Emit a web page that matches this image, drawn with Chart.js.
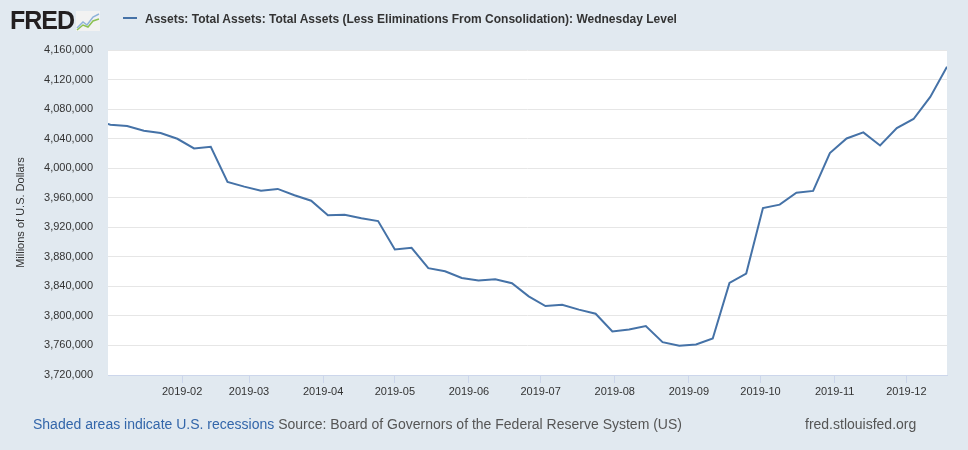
<!DOCTYPE html>
<html>
<head>
<meta charset="utf-8">
<script src="https://cdn.jsdelivr.net/npm/chart.js@4"></script>
<style>
  body { margin: 0; background: #e1e9f0; font-family: "Liberation Sans", Arial, sans-serif; }
  #wrap { position: relative; width: 968px; height: 450px; overflow: hidden; }
  #chart { position: absolute; left: 0; top: 0; }
  .logo { position: absolute; left: 10px; top: 6px; font-size: 25px; font-weight: bold; color: #231f20; letter-spacing: -1px; }
  .logo svg { vertical-align: -2px; margin-left: 2px; }
  .legend { position: absolute; left: 123px; top: 12px; font-size: 12px; font-weight: bold; color: #333; }
  .legend span { display: inline-block; width: 14px; height: 2px; background: #4572a7; vertical-align: 4px; margin-right: 8px; }
  .footer { position: absolute; top: 416px; font-size: 14px; color: #555; }
</style>
</head>
<body>
<div id="wrap">
  <canvas id="chart" width="968" height="450"></canvas>
  <div class="logo">FRED<svg width="24" height="20" viewBox="0 0 24 20"><rect width="24" height="20" fill="#f2f2f2"/><polyline points="1,17 7,11 11,14 17,6 23,3" fill="none" stroke="#8fb3d9" stroke-width="1.5"/><polyline points="1,19 7,14 12,16 17,10 23,8" fill="none" stroke="#8cc152" stroke-width="1.5"/></svg></div>
  <div class="legend"><span></span>Assets: Total Assets: Total Assets (Less Eliminations From Consolidation): Wednesday Level</div>
  <div class="footer" style="left:33px"><span style="color:#3366aa">Shaded areas indicate U.S. recessions</span> Source: Board of Governors of the Federal Reserve System (US)</div>
  <div class="footer" style="left:805px">fred.stlouisfed.org</div>
</div>
<script>
// day of year (Jan 1 2019 = 0), weekly Wednesdays from Dec 26 2018
const days = [];
for (let i = 0; i < 52; i++) days.push(-6 + 7 * i);

// millions of U.S. dollars
const assets = [
  4066000, 4058900, 4057100, 4050700, 4047600, 4039800, 4026700, 4029000, 3981400, 3975000,
  3969600, 3971900, 3963300, 3956000, 3936200, 3937000, 3932100, 3928400, 3890000, 3892200,
  3864600, 3860500, 3851400, 3847900, 3849600, 3844200, 3826500, 3813300, 3815200, 3808500,
  3803000, 3779000, 3781700, 3786200, 3764400, 3759500, 3761300, 3769500, 3844600, 3857400,
  3946100, 3950600, 3966900, 3969200, 4020400, 4040200, 4048400, 4030700, 4054400, 4066600,
  4096500, 4137300
];

const monthTicks = [31, 59, 90, 120, 151, 181, 212, 243, 273, 304, 334];
const monthLabels = ['2019-02', '2019-03', '2019-04', '2019-05', '2019-06', '2019-07',
  '2019-08', '2019-09', '2019-10', '2019-11', '2019-12'];

const plotBg = {
  id: 'plotBg',
  beforeDraw(chart) {
    const { ctx, chartArea: a } = chart;
    ctx.save();
    ctx.fillStyle = '#ffffff';
    ctx.fillRect(a.left, a.top, a.right - a.left, a.bottom - a.top);
    ctx.restore();
  }
};

new Chart(document.getElementById('chart'), {
  type: 'line',
  data: {
    datasets: [{
      data: days.map((d, i) => ({ x: d, y: assets[i] })),
      borderColor: '#4572a7',
      borderWidth: 2,
      pointRadius: 0,
      tension: 0,
      fill: false
    }]
  },
  options: {
    responsive: false,
    animation: false,
    layout: { padding: { top: 50, right: 21, bottom: 45, left: 0 } },
    plugins: { legend: { display: false }, tooltip: { enabled: false } },
    scales: {
      x: {
        type: 'linear',
        min: 0,
        max: 351,
        afterBuildTicks: axis => { axis.ticks = monthTicks.map(v => ({ value: v })); },
        afterFit: axis => { axis.height = 30; },
        grid: { drawOnChartArea: false, drawTicks: true, tickLength: 8, color: '#ccd6eb' },
        border: { color: '#ccd6eb' },
        ticks: {
          autoSkip: false,
          maxRotation: 0,
          padding: 2,
          color: '#333',
          font: { family: '"Liberation Sans", Arial', size: 11 },
          callback: value => monthLabels[monthTicks.indexOf(value)]
        }
      },
      y: {
        min: 3720000,
        max: 4160000,
        afterFit: axis => { axis.width = 108; },
        afterBuildTicks: axis => {
          const t = [];
          for (let v = 3720000; v <= 4160000; v += 40000) t.push({ value: v });
          axis.ticks = t;
        },
        grid: { color: '#e6e6e6', drawTicks: false },
        border: { display: false },
        title: {
          display: true,
          text: 'Millions of U.S. Dollars',
          color: '#333',
          font: { family: '"Liberation Sans", Arial', size: 11 },
          padding: { top: 14, bottom: 0 }
        },
        ticks: {
          padding: 15,
          color: '#333',
          font: { family: '"Liberation Sans", Arial', size: 11 },
          callback: value => value.toLocaleString('en-US')
        }
      }
    }
  },
  plugins: [plotBg]
});
</script>
</body>
</html>
